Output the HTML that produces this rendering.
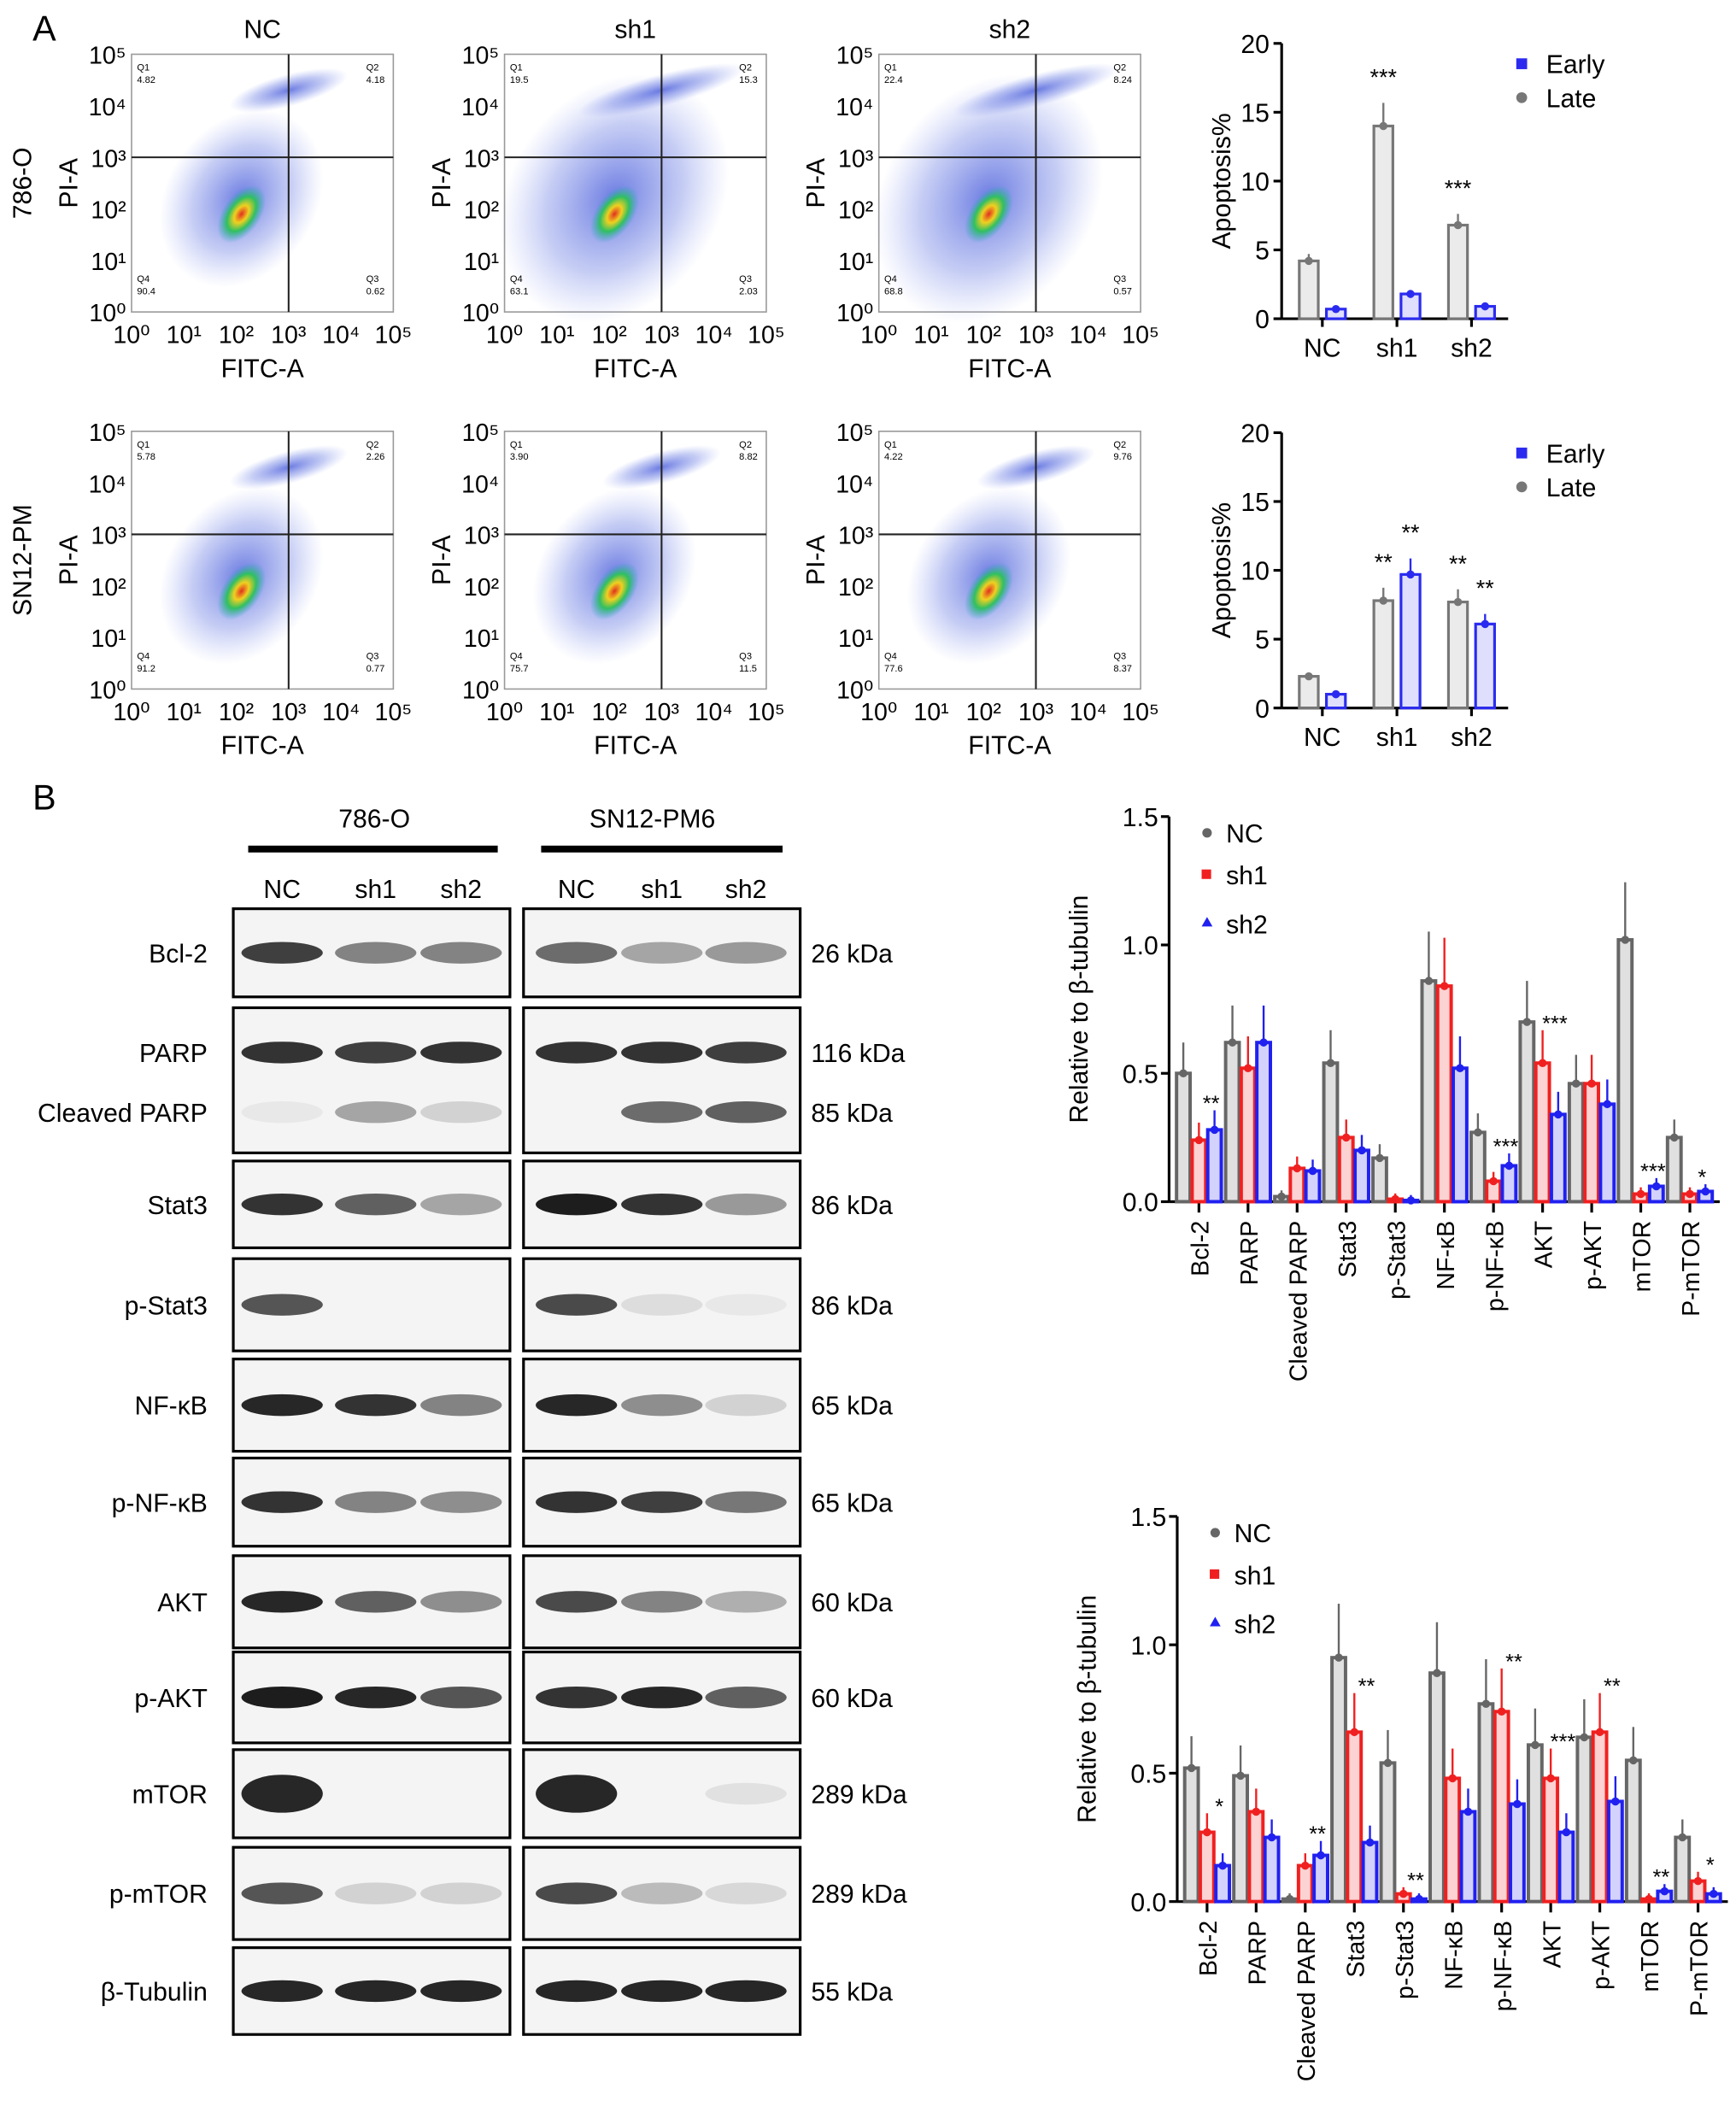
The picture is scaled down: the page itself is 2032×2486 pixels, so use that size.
<!DOCTYPE html>
<html><head><meta charset="utf-8"><style>
html,body{margin:0;padding:0;background:#fff}
svg{display:block;font-family:"Liberation Sans",sans-serif}
</style></head><body>
<svg id="fig" width="2032" height="2486" viewBox="0 0 1280 1566" xmlns="http://www.w3.org/2000/svg">
<defs>
<radialGradient id="haze"><stop offset="0" stop-color="#3a4fd8" stop-opacity="0.75"/><stop offset="0.6" stop-color="#5a6fe0" stop-opacity="0.35"/><stop offset="1" stop-color="#8090ee" stop-opacity="0"/></radialGradient>
<radialGradient id="core"><stop offset="0" stop-color="#e03020"/><stop offset="0.3" stop-color="#f0d020"/><stop offset="0.6" stop-color="#30c060"/><stop offset="1" stop-color="#30a0d0" stop-opacity="0"/></radialGradient>
</defs>
<g id="root"></g>
</svg>
<script>
const NS='http://www.w3.org/2000/svg';
const root=document.getElementById('root');
function el(tag,attrs,parent,txt){const e=document.createElementNS(NS,tag);for(const k in attrs)e.setAttribute(k,attrs[k]);if(txt!==undefined)e.textContent=txt;(parent||root).appendChild(e);return e;}

// ---------- data ----------
const flowRowLabels=['786-O','SN12-PM'];
const flowColLabels=['NC','sh1','sh2'];
const flowQuadVals=[[['4.82','4.18','90.4','0.62'],['19.5','15.3','63.1','2.03'],['22.4','8.24','68.8','0.57']],
                    [['5.78','2.26','91.2','0.77'],['3.90','8.82','75.7','11.5'],['4.22','9.76','77.6','8.37']]];
const apoCats=['NC','sh1','sh2'];
const apoLate1=[4.2,14.0,6.8], apoEarly1=[0.7,1.8,0.9];
const apoLate2=[2.3,7.8,7.7], apoEarly2=[1.0,9.7,6.1];
const apoStars1=[['',''],['***',''],['***','']];
const apoStars2=[['',''],['**','**'],['**','**']];
const wbCats=['Bcl-2','PARP','Cleaved PARP','Stat3','p-Stat3','NF-κB','p-NF-κB','AKT','p-AKT','mTOR','P-mTOR'];
const wbNC1=[0.50,0.62,0.02,0.54,0.17,0.86,0.27,0.70,0.46,1.02,0.25];
const wbSh1_1=[0.24,0.52,0.13,0.25,0.01,0.84,0.08,0.54,0.46,0.03,0.03];
const wbSh2_1=[0.28,0.62,0.12,0.20,0.005,0.52,0.14,0.34,0.38,0.06,0.04];
const wbStars1=['**','','','','','','***','***','','***','*'];
const wbNC2=[0.52,0.49,0.01,0.95,0.54,0.89,0.77,0.61,0.64,0.55,0.25];
const wbSh1_2=[0.27,0.35,0.14,0.66,0.03,0.48,0.74,0.48,0.66,0.01,0.08];
const wbSh2_2=[0.14,0.25,0.18,0.23,0.01,0.35,0.38,0.27,0.39,0.04,0.03];
const wbStars2=['*','','**','**','**','','**','***','**','**','*'];

// ---------- panel labels ----------
el('text',{x:24,y:30,'font-size':26},null,'A');
el('text',{x:24,y:597,'font-size':26},null,'B');

// ---------- flow plots ----------
const supers=['⁰','¹','²','³','⁴','⁵'];
const colX=[97,372,648], rowY=[40,318], pw=193, ph=190;
for(let r=0;r<2;r++)for(let c=0;c<3;c++){
  const g=el('g',{});
  
  
  const x0=colX[c],y0=rowY[r];
  const xs=v=>x0+v/5*pw, ys=v=>y0+ph-v/5*ph;
  el('rect',{x:x0,y:y0,width:pw,height:ph,fill:'#fff',stroke:'#999','stroke-width':1},g);
  const spread=(r===0&&c>0)?1.4:1;
  el('ellipse',{cx:xs(2.1),cy:ys(2.2),rx:55*spread,ry:70*spread,fill:'url(#haze)',transform:`rotate(35 ${xs(2.1)} ${ys(2.2)})`},g);
  el('ellipse',{cx:xs(3.0),cy:ys(4.3),rx:45*spread,ry:12,fill:'url(#haze)',transform:`rotate(-15 ${xs(3.0)} ${ys(4.3)})`},g);
  el('ellipse',{cx:xs(2.1),cy:ys(1.9),rx:14,ry:24,fill:'url(#core)',transform:`rotate(35 ${xs(2.1)} ${ys(1.9)})`},g);
  el('line',{x1:xs(3),x2:xs(3),y1:y0,y2:y0+ph,stroke:'#222','stroke-width':1.3},g);
  el('line',{x1:x0,x2:x0+pw,y1:ys(3),y2:ys(3),stroke:'#222','stroke-width':1.3},g);
  const q=flowQuadVals[r][c];
  el('text',{x:x0+4,y:y0+12,'font-size':7},g,'Q1');el('text',{x:x0+4,y:y0+21,'font-size':7},g,q[0]);
  el('text',{x:x0+pw-20,y:y0+12,'font-size':7},g,'Q2');el('text',{x:x0+pw-20,y:y0+21,'font-size':7},g,q[1]);
  el('text',{x:x0+4,y:y0+ph-22,'font-size':7},g,'Q4');el('text',{x:x0+4,y:y0+ph-13,'font-size':7},g,q[2]);
  el('text',{x:x0+pw-20,y:y0+ph-22,'font-size':7},g,'Q3');el('text',{x:x0+pw-20,y:y0+ph-13,'font-size':7},g,q[3]);
  for(let i=0;i<=5;i++){
    el('text',{x:xs(i),y:y0+ph+23,'font-size':18,'text-anchor':'middle'},g,'10'+supers[i]);
    el('text',{x:x0-4,y:ys(i)+7,'font-size':18,'text-anchor':'end'},g,'10'+supers[i]);
  }
  el('text',{x:x0+pw/2,y:y0+ph+48,'font-size':19,'text-anchor':'middle'},g,'FITC-A');
  el('text',{x:0,y:0,'font-size':19,'text-anchor':'middle',transform:`translate(${x0-40},${y0+ph/2}) rotate(-90)`},g,'PI-A');
  if(r===0){const t=el('text',{x:x0+pw/2,y:28,'font-size':19,'text-anchor':'middle'},null,flowColLabels[c]);}
}
for(let r=0;r<2;r++){const t=el('text',{x:0,y:0,'font-size':19,'text-anchor':'middle',transform:`translate(23,${rowY[r]+ph/2}) rotate(-90)`},null,flowRowLabels[r]);}

// ---------- apoptosis bar charts ----------
function apoChart(yBase,late,early,stars,name){
  const g=el('g',{});
  const ax=945, top=yBase-203, xOf=i=>975+i*55, yOf=v=>yBase-v/20*203;
  el('line',{x1:ax,x2:ax,y1:top,y2:yBase,stroke:'#000','stroke-width':2},g);
  el('line',{x1:ax,x2:1112,y1:yBase,y2:yBase,stroke:'#000','stroke-width':2},g);
  for(let v=0;v<=20;v+=5){el('line',{x1:ax-6,x2:ax,y1:yOf(v),y2:yOf(v),stroke:'#000','stroke-width':2},g);
    el('text',{x:ax-9,y:yOf(v)+7,'font-size':19,'text-anchor':'end'},g,String(v));}
  el('text',{x:0,y:0,'font-size':19,'text-anchor':'middle',transform:`translate(907,${yOf(10)}) rotate(-90)`},g,'Apoptosis%');
  apoCats.forEach((c,i)=>{
    el('line',{x1:xOf(i),x2:xOf(i),y1:yBase,y2:yBase+6,stroke:'#000','stroke-width':2},g);
    el('text',{x:xOf(i),y:yBase+28,'font-size':19,'text-anchor':'middle'},g,c);
    [[late[i],'#777',-10],[early[i],'#2b2bf0',10]].forEach(([v,col,dx],k)=>{
      const b=el('rect',{x:xOf(i)+dx-7,y:yOf(v),width:14,height:yBase-yOf(v),fill:col,'fill-opacity':0.15,stroke:col,'stroke-width':2},g);
      
      el('line',{x1:xOf(i)+dx,x2:xOf(i)+dx,y1:yOf(v*1.12),y2:yOf(v),stroke:col,'stroke-width':1.5},g);
      el('circle',{cx:xOf(i)+dx,cy:yOf(v),r:3,fill:col},g);
      if(stars[i][k])el('text',{x:xOf(i)+dx,y:yOf(v*1.12+1)-3,'font-size':17,'text-anchor':'middle'},g,stars[i][k]);
    });
  });
  el('rect',{x:1118,y:top+11,width:8,height:8,fill:'#2b2bf0'},g);
  el('text',{x:1140,y:top+22,'font-size':19},g,'Early');
  el('circle',{cx:1122,cy:top+40,r:4,fill:'#777'},g);
  el('text',{x:1140,y:top+47,'font-size':19},g,'Late');
}
apoChart(235,apoLate1,apoEarly1,apoStars1,'apoptosis-chart-786-o');
apoChart(522,apoLate2,apoEarly2,apoStars2,'apoptosis-chart-sn12-pm6');

// ---------- western blots ----------
const blotRows=[
 ['Bcl-2',670,735,[[.8,.5,.5],[.6,.35,.4]],['26 kDa']],
 ['PARP',743,850,[[.85,.8,.85],[.85,.85,.8]],['116 kDa','85 kDa']],
 ['Stat3',856,920,[[.85,.65,.35],[.95,.85,.4]],['86 kDa']],
 ['p-Stat3',928,996,[[.7,0,0],[.75,.1,.05]],['86 kDa']],
 ['NF-κB',1002,1070,[[.9,.85,.5],[.9,.45,.15]],['65 kDa']],
 ['p-NF-κB',1075,1140,[[.85,.5,.45],[.85,.8,.55]],['65 kDa']],
 ['AKT',1147,1215,[[.9,.65,.45],[.75,.5,.3]],['60 kDa']],
 ['p-AKT',1218,1285,[[.95,.9,.7],[.85,.9,.65]],['60 kDa']],
 ['mTOR',1290,1355,[[.9,0,0],[.9,0,.08]],['289 kDa']],
 ['p-mTOR',1362,1430,[[.7,.15,.15],[.75,.25,.12]],['289 kDa']],
 ['β-Tubulin',1436,1500,[[.9,.9,.9],[.9,.9,.9]],['55 kDa']]];
const laneX=[[208,277,340],[425,488,550]], blockX=[[172,376],[386,590]];
[['786-O',276,183,367],['SN12-PM6',481,399,577]].forEach(([t,cx,a,b])=>{
  const h=el('text',{x:cx,y:610,'font-size':19,'text-anchor':'middle'},null,t);
  el('line',{x1:a,x2:b,y1:626,y2:626,stroke:'#000','stroke-width':5});
});
laneX.forEach(ls=>ls.forEach((x,i)=>el('text',{x:x,y:662,'font-size':19,'text-anchor':'middle'},null,['NC','sh1','sh2'][i])));
blotRows.forEach(([name,y1,y2,ints,kd])=>{
  const g=el('g',{});
  blockX.forEach(([a,b],bi)=>{
    el('rect',{x:a,y:y1,width:b-a,height:y2-y1,fill:'#f4f4f4',stroke:'#000','stroke-width':2},g);
    const bandYs=name==='PARP'?[y1+33,y1+77]:[(y1+y2)/2];
    laneX[bi].forEach((x,li)=>{
      bandYs.forEach((by,k)=>{
        let it=ints[bi][li];
        if(name==='PARP'&&k===1)it=[[.05,.35,.15],[0,.6,.65]][bi][li];
        if(it>0)el('ellipse',{cx:x,cy:by,rx:30,ry:name==='mTOR'&&li===0?14:8,fill:'#111','fill-opacity':it},g);
      });
    });
  });
  const ly=name==='PARP'?y1+40:(y1+y2)/2+7;
  el('text',{x:153,y:ly,'font-size':19,'text-anchor':'end'},g,name);
  if(name==='PARP')el('text',{x:153,y:y1+84,'font-size':19,'text-anchor':'end'},g,'Cleaved PARP');
  kd.forEach((k,i)=>el('text',{x:598,y:(name==='PARP'?[y1+40,y1+84][i]:ly),'font-size':19},g,k));
});

// ---------- WB quantification charts ----------
function wbChart(ax,yBase,x0,nc,s1,s2,stars,name){
  const g=el('g',{});
  const sc=189.3, yOf=v=>yBase-v*sc, xOf=i=>x0+i*36.2;
  el('line',{x1:ax,x2:ax,y1:yOf(1.5),y2:yBase,stroke:'#000','stroke-width':2},g);
  el('line',{x1:ax,x2:xOf(10)+22,y1:yBase,y2:yBase,stroke:'#000','stroke-width':2},g);
  [0,0.5,1,1.5].forEach(v=>{el('line',{x1:ax-6,x2:ax,y1:yOf(v),y2:yOf(v),stroke:'#000','stroke-width':2},g);
    el('text',{x:ax-8,y:yOf(v)+7,'font-size':19,'text-anchor':'end'},g,v.toFixed(1));});
  el('text',{x:0,y:0,'font-size':19,'text-anchor':'middle',transform:`translate(${ax-60},${yOf(0.75)}) rotate(-90)`},g,'Relative to β-tubulin');
  const cols=['#666','#f02020','#2020f0'];
  wbCats.forEach((c,i)=>{
    el('line',{x1:xOf(i),x2:xOf(i),y1:yBase,y2:yBase+8,stroke:'#000','stroke-width':2},g);
    el('text',{x:0,y:0,'font-size':18,'text-anchor':'end',transform:`translate(${xOf(i)+7},${yBase+14}) rotate(-90)`},g,c);
    [nc[i],s1[i],s2[i]].forEach((v,k)=>{
      const cx=xOf(i)+(k-1)*11.5;
      const b=el('rect',{x:cx-5,y:yOf(v),width:10,height:Math.max(yBase-yOf(v),0.5),fill:cols[k],'fill-opacity':0.2,stroke:cols[k],'stroke-width':2.5},g);
      
      el('line',{x1:cx,x2:cx,y1:yOf(v*1.2+0.02),y2:yOf(v),stroke:cols[k],'stroke-width':1.5},g);
      el('circle',{cx:cx,cy:yOf(v),r:3,fill:cols[k]},g);
    });
    if(stars[i])el('text',{x:xOf(i)+9,y:yOf(Math.max(s1[i],s2[i])*1.2+0.05)+6,'font-size':16,'text-anchor':'middle'},g,stars[i]);
  });
  const ly=yOf(1.5)+12;
  el('circle',{cx:x0+6,cy:ly,r:3.5,fill:'#666'},g);el('text',{x:x0+20,y:ly+7,'font-size':19},g,'NC');
  el('rect',{x:x0+2,y:ly+27,width:7,height:7,fill:'#f02020'},g);el('text',{x:x0+20,y:ly+38,'font-size':19},g,'sh1');
  el('path',{d:`M${x0+6} ${ly+62} l4 7 h-8 z`,fill:'#2020f0'},g);el('text',{x:x0+20,y:ly+74,'font-size':19},g,'sh2');
}
wbChart(862,886,884,wbNC1,wbSh1_1,wbSh2_1,wbStars1,'wb-quant-chart-786-o');
wbChart(868,1402,890,wbNC2,wbSh1_2,wbSh2_2,wbStars2,'wb-quant-chart-sn12-pm6');
</script>
</body></html>
